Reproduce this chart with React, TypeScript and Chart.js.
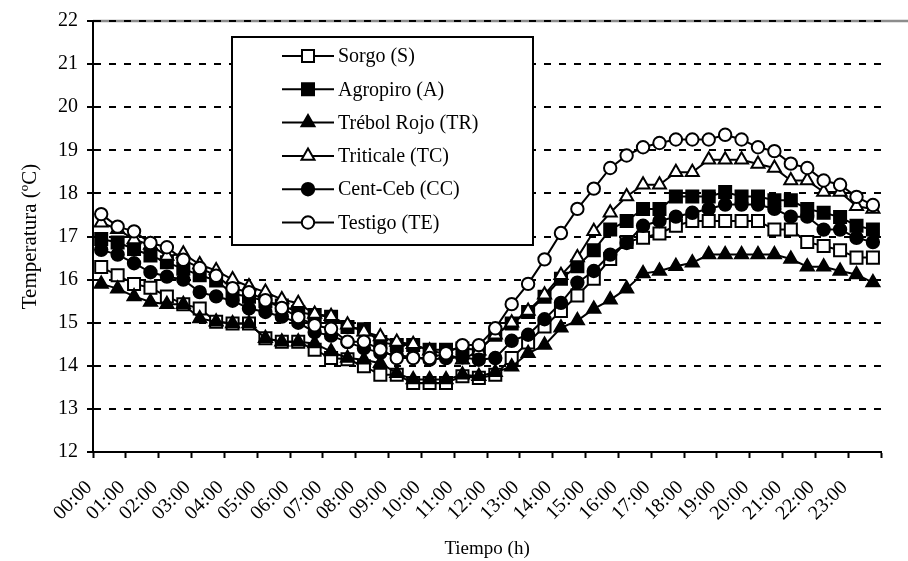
import React, { useEffect, useRef } from 'react';
import { Chart, registerables } from 'chart.js';

Chart.register(...registerables);

const SERIF = '"Liberation Serif", "Times New Roman", Times, serif';

// Half-hourly readings (categories)
const horas = [
  '00:00', '00:30', '01:00', '01:30', '02:00', '02:30', '03:00', '03:30',
  '04:00', '04:30', '05:00', '05:30', '06:00', '06:30', '07:00', '07:30',
  '08:00', '08:30', '09:00', '09:30', '10:00', '10:30', '11:00', '11:30',
  '12:00', '12:30', '13:00', '13:30', '14:00', '14:30', '15:00', '15:30',
  '16:00', '16:30', '17:00', '17:30', '18:00', '18:30', '19:00', '19:30',
  '20:00', '20:30', '21:00', '21:30', '22:00', '22:30', '23:00', '23:30',
];

// Temperature (ºC) per treatment
const sorgo = [
  16.29, 16.1, 15.9, 15.81, 15.61, 15.43, 15.33, 15.02, 14.98, 14.98, 14.64, 14.56,
  14.56, 14.37, 14.18, 14.15, 13.99, 13.79, 13.79, 13.6, 13.6, 13.6, 13.76, 13.72,
  13.79, 14.18, 14.54, 14.91, 15.27, 15.63, 16.02, 16.48, 16.87, 16.97, 17.07, 17.25,
  17.36, 17.36, 17.36, 17.36, 17.36, 17.16, 17.16, 16.87, 16.78, 16.68, 16.51, 16.51,
];
const agropiro = [
  16.94, 16.86, 16.71, 16.56, 16.4, 16.25, 16.1, 15.98, 15.67, 15.6, 15.5, 15.4,
  15.25, 15.18, 15.14, 14.9, 14.85, 14.55, 14.48, 14.48, 14.37, 14.37, 14.4, 14.37,
  14.72, 14.98, 15.25, 15.6, 16.02, 16.31, 16.68, 17.16, 17.36, 17.64, 17.64, 17.93,
  17.93, 17.93, 18.03, 17.93, 17.93, 17.84, 17.84, 17.64, 17.55, 17.45, 17.25, 17.16,
];
const trebolRojo = [
  15.9, 15.79, 15.61, 15.48, 15.43, 15.43, 15.1, 15.02, 14.98, 14.98, 14.64, 14.56,
  14.56, 14.52, 14.33, 14.18, 14.14, 14.06, 13.83, 13.68, 13.68, 13.68, 13.79, 13.76,
  13.85, 13.98, 14.29, 14.48, 14.88, 15.05, 15.32, 15.53, 15.79, 16.14, 16.2, 16.31,
  16.39, 16.58, 16.58, 16.58, 16.58, 16.58, 16.48, 16.3, 16.3, 16.2, 16.12, 15.93,
];
const triticale = [
  17.32, 17.17, 16.93, 16.8, 16.55, 16.6, 16.35, 16.21, 16.0, 15.84, 15.71, 15.54,
  15.45, 15.2, 15.15, 14.95, 14.79, 14.68, 14.55, 14.5, 14.35, 14.28, 14.14, 14.35,
  14.72, 15.0, 15.27, 15.65, 16.1, 16.51, 17.12, 17.55, 17.93, 18.2, 18.2, 18.49,
  18.49, 18.78, 18.78, 18.78, 18.68, 18.59, 18.3, 18.3, 18.03, 18.03, 17.7, 17.64,
];
const centCeb = [
  16.69, 16.58, 16.38, 16.17, 16.07, 16.0, 15.71, 15.61, 15.51, 15.33, 15.25, 15.14,
  15.0, 14.78, 14.7, 14.55, 14.41, 14.3, 14.25, 14.2, 14.14, 14.18, 14.2, 14.14,
  14.18, 14.58, 14.72, 15.08, 15.46, 15.93, 16.2, 16.58, 16.85, 17.25, 17.36, 17.46,
  17.55, 17.64, 17.74, 17.74, 17.74, 17.64, 17.46, 17.46, 17.16, 17.16, 16.97, 16.87,
];
const testigo = [
  17.52, 17.23, 17.12, 16.85, 16.75, 16.46, 16.27, 16.09, 15.8, 15.71, 15.52, 15.34,
  15.13, 14.94, 14.86, 14.56, 14.56, 14.38, 14.18, 14.18, 14.18, 14.29, 14.48, 14.48,
  14.87, 15.43, 15.9, 16.47, 17.08, 17.64, 18.11, 18.59, 18.88, 19.07, 19.17, 19.25,
  19.25, 19.25, 19.36, 19.25, 19.07, 18.98, 18.69, 18.59, 18.3, 18.2, 17.92, 17.73,
];

const nombres = ['Sorgo (S)', 'Agropiro (A)', 'Trébol Rojo (TR)', 'Triticale (TC)', 'Cent-Ceb (CC)', 'Testigo (TE)'];
const valores = [sorgo, agropiro, trebolRojo, triticale, centCeb, testigo];
const formas = ['rect', 'rect', 'triangle', 'triangle', 'circle', 'circle'];
const rellenos = ['#ffffff', '#000000', '#000000', '#ffffff', '#000000', '#ffffff'];
const radios = [8.5, 8.5, 7.5, 7.5, 6.2, 6.2];

function dibujarMarcador(ctx: CanvasRenderingContext2D, forma: string, r: number, x: number, y: number, relleno: string) {
  ctx.beginPath();
  if (forma === 'circle') {
    ctx.arc(x, y, r, 0, Math.PI * 2);
  } else if (forma === 'rect') {
    const s = r * Math.SQRT1_2;
    ctx.rect(x - s, y - s, 2 * s, 2 * s);
  } else {
    let a = 0;
    ctx.moveTo(x + Math.sin(a) * r, y - Math.cos(a) * r);
    a += (2 * Math.PI) / 3;
    ctx.lineTo(x + Math.sin(a) * r, y - Math.cos(a) * r);
    a += (2 * Math.PI) / 3;
    ctx.lineTo(x + Math.sin(a) * r, y - Math.cos(a) * r);
  }
  ctx.closePath();
  ctx.fillStyle = relleno;
  ctx.fill();
  ctx.stroke();
}

// Grey frame line along the top of the plot area, under the dashed gridline
const lineaSuperior = {
  id: 'lineaSuperior',
  beforeDraw(chart: any) {
    const { ctx, chartArea, width } = chart;
    ctx.save();
    ctx.strokeStyle = '#8c8c8c';
    ctx.lineWidth = 2.5;
    ctx.beginPath();
    ctx.moveTo(chartArea.left, chartArea.top);
    ctx.lineTo(width, chartArea.top);
    ctx.stroke();
    ctx.restore();
  },
};

// Boxed legend inside the plot area
const cuadroLeyenda = {
  id: 'cuadroLeyenda',
  afterDraw(chart: any) {
    const { ctx } = chart;
    const x0 = 232;
    const y0 = 37;
    const w = 301;
    const h = 208;
    ctx.save();
    ctx.fillStyle = '#ffffff';
    ctx.fillRect(x0, y0, w, h);
    ctx.strokeStyle = '#000000';
    ctx.lineWidth = 2;
    ctx.strokeRect(x0, y0, w, h);
    chart.data.datasets.forEach((ds: any, i: number) => {
      const y = y0 + 19 + i * 33.3;
      ctx.strokeStyle = '#000000';
      ctx.lineWidth = 2;
      ctx.beginPath();
      ctx.moveTo(282, y);
      ctx.lineTo(334, y);
      ctx.stroke();
      dibujarMarcador(ctx, ds.pointStyle, ds.pointRadius, 308, y, ds.pointBackgroundColor);
      ctx.fillStyle = '#000000';
      ctx.font = `20px ${SERIF}`;
      ctx.textBaseline = 'middle';
      ctx.textAlign = 'left';
      ctx.fillText(ds.label, 338, y + 1);
    });
    ctx.restore();
  },
};

export default function App() {
  const canvasRef = useRef<HTMLCanvasElement | null>(null);

  useEffect(() => {
    if (!canvasRef.current) return;
    const datasets = nombres.map((nombre, i) => ({
      label: nombre,
      data: valores[i],
      borderColor: '#000000',
      borderWidth: 2,
      tension: 0,
      pointStyle: formas[i],
      pointRadius: radios[i],
      pointBackgroundColor: rellenos[i],
      pointBorderColor: '#000000',
      pointBorderWidth: 2,
      order: nombres.length - 1 - i,
    }));

    const chart = new Chart(canvasRef.current, {
      type: 'line',
      data: { labels: horas, datasets },
      options: {
        responsive: false,
        animation: false,
        devicePixelRatio: 1,
        layout: { padding: { left: 0, right: 5, top: 20, bottom: 0 } },
        plugins: {
          legend: { display: false },
          tooltip: { enabled: false },
        },
        scales: {
          x: {
            type: 'category',
            offset: true,
            afterFit: (scale: any) => {
              scale.height = 109;
            },
            grid: {
              display: true,
              offset: true,
              drawOnChartArea: false,
              drawTicks: true,
              tickLength: 6,
              tickWidth: 2,
              tickColor: (c: any) => (c.index === undefined || c.index % 2 === 0 ? '#000000' : 'rgba(0,0,0,0)'),
            },
            border: { display: true, color: '#000000', width: 2 },
            ticks: {
              autoSkip: false,
              maxRotation: 45,
              minRotation: 45,
              padding: 18,
              labelOffset: -12,
              color: '#000000',
              font: { family: SERIF, size: 20 },
              callback: (_v: any, idx: number) => (idx % 2 === 0 ? horas[idx] : ''),
            },
            title: {
              display: true,
              text: 'Tiempo (h)',
              color: '#000000',
              font: { family: SERIF, size: 19 },
              padding: { top: 0, bottom: 1 },
            },
          },
          y: {
            min: 12,
            max: 22,
            afterFit: (scale: any) => {
              scale.width = 93;
            },
            ticks: {
              stepSize: 1,
              padding: 9,
              color: '#000000',
              font: { family: SERIF, size: 20 },
            },
            grid: {
              color: '#000000',
              lineWidth: 2,
              tickLength: 6,
              tickWidth: 2,
              tickColor: '#000000',
            },
            border: { display: true, color: '#000000', width: 2, dash: [7, 8] },
            title: {
              display: true,
              text: 'Temperatura (ºC)',
              color: '#000000',
              font: { family: SERIF, size: 21 },
              padding: { top: 18, bottom: 0 },
            },
          },
        },
      },
      plugins: [lineaSuperior, cuadroLeyenda],
    } as any);

    return () => chart.destroy();
  }, []);

  return (
    <div style={{ position: 'fixed', left: 0, top: 0, width: 908, height: 561, background: '#ffffff' }}>
      <canvas ref={canvasRef} width={908} height={561} />
    </div>
  );
}
